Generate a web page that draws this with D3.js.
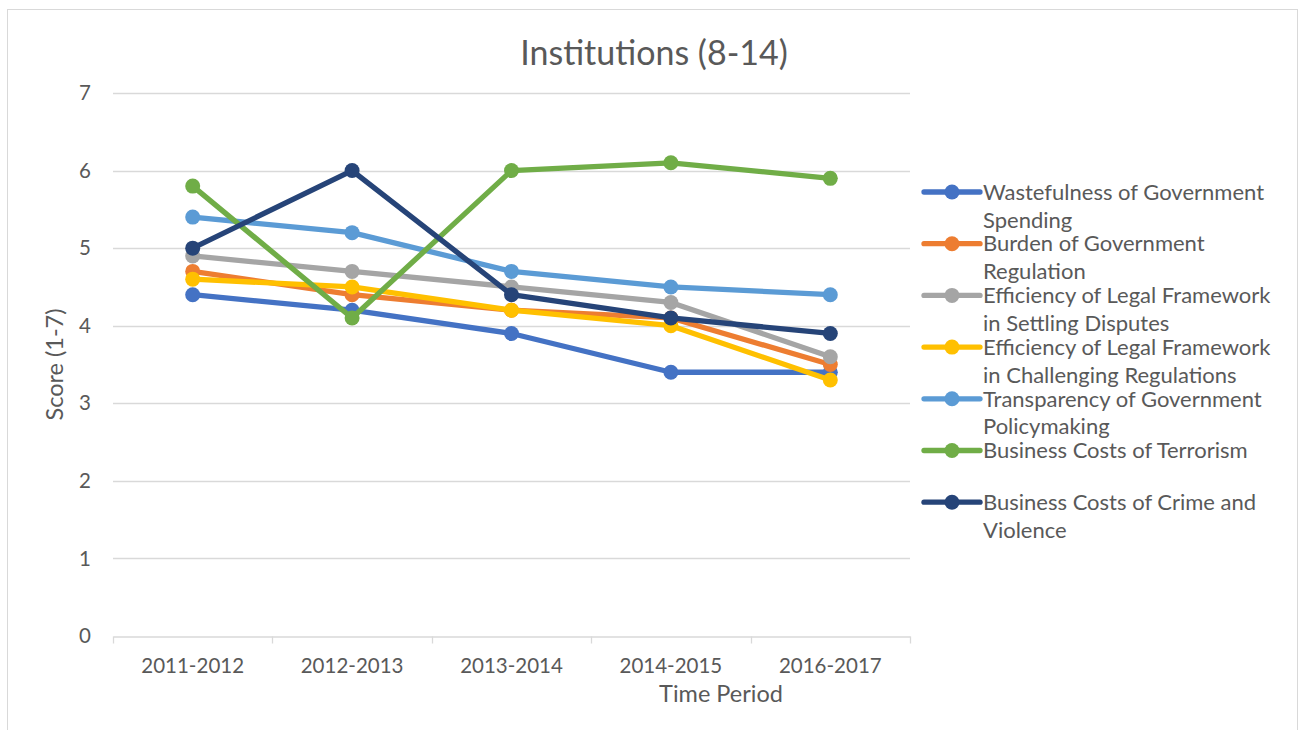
<!DOCTYPE html>
<html>
<head>
<meta charset="utf-8">
<script src="https://cdn.jsdelivr.net/npm/d3@7"></script>
<style>
  body { margin: 0; background: #fff; }
  text { font-family: Lato, "Open Sans", sans-serif; fill: #595959; }
</style>
</head>
<body>
<div id="chart"></div>
<script>
// data
var periods = ["2011-2012", "2012-2013", "2013-2014", "2014-2015", "2016-2017"];
var seriesNames = [
  ["Wastefulness of Government", "Spending"],
  ["Burden of Government", "Regulation"],
  ["Efficiency of Legal Framework", "in Settling Disputes"],
  ["Efficiency of Legal Framework", "in Challenging Regulations"],
  ["Transparency of Government", "Policymaking"],
  ["Business Costs of Terrorism"],
  ["Business Costs of Crime and", "Violence"]
];
var wastefulness = [4.4, 4.2, 3.9, 3.4, 3.4];
var burden       = [4.7, 4.4, 4.2, 4.1, 3.5];
var settling     = [4.9, 4.7, 4.5, 4.3, 3.6];
var challenging  = [4.6, 4.5, 4.2, 4.0, 3.3];
var transparency = [5.4, 5.2, 4.7, 4.5, 4.4];
var terrorism    = [5.8, 4.1, 6.0, 6.1, 5.9];
var crime        = [5.0, 6.0, 4.4, 4.1, 3.9];
var yTicks = [0, 1, 2, 3, 4, 5, 6, 7];
var colors = ["#4472C4", "#ED7D31", "#A5A5A5", "#FFC000", "#5B9BD5", "#70AD47", "#264478"];

var allValues = [wastefulness, burden, settling, challenging, transparency, terrorism, crime];
var series = seriesNames.map(function(n, i) {
  return { name: n, values: allValues[i], color: colors[i] };
});

var W = 1304, H = 730;
var plot = {left: 113, right: 910, top: 93, bottom: 636};

var svg = d3.select("#chart").append("svg")
    .attr("width", W)
    .attr("height", H);

// outer chart border
svg.append("rect")
    .attr("x", 7.5).attr("y", 9.5)
    .attr("width", 1290).attr("height", 740)
    .attr("fill", "none")
    .attr("stroke", "#d9d9d9");

var x = d3.scaleBand()
    .domain(periods)
    .range([plot.left, plot.right]);

var y = d3.scaleLinear()
    .domain([0, 7])
    .range([plot.bottom, plot.top]);

// gridlines
svg.append("g")
  .selectAll("line")
  .data(yTicks.slice(1))
  .enter().append("line")
    .attr("x1", plot.left).attr("x2", plot.right)
    .attr("y1", function(d) { return Math.round(y(d)) + 0.5; })
    .attr("y2", function(d) { return Math.round(y(d)) + 0.5; })
    .attr("stroke", "#d9d9d9")
    .attr("stroke-width", 1.3);

// y axis labels
svg.append("g")
  .selectAll("text")
  .data(yTicks)
  .enter().append("text")
    .attr("x", 91)
    .attr("y", function(d) { return y(d); })
    .attr("dy", "0.35em")
    .attr("text-anchor", "end")
    .style("font-size", "20.5px")
    .text(function(d) { return d; });

// x axis
var xAxis = d3.axisBottom(x)
    .tickValues([])
    .tickSizeOuter(0);
var gx = svg.append("g")
    .attr("transform", "translate(0," + (Math.round(plot.bottom) + 0.5) + ")")
    .call(xAxis);
gx.select(".domain").attr("stroke", "#d9d9d9").attr("stroke-width", 1.3);

var boundaries = periods.map(function(p) { return x(p); }).concat([plot.right]);
gx.selectAll(".bound")
  .data(boundaries)
  .enter().append("line")
    .attr("x1", function(d) { return Math.round(d) + 0.5; })
    .attr("x2", function(d) { return Math.round(d) + 0.5; })
    .attr("y1", 0).attr("y2", 7)
    .attr("stroke", "#d9d9d9")
    .attr("stroke-width", 1.3);

svg.append("g")
  .selectAll("text")
  .data(periods)
  .enter().append("text")
    .attr("x", function(d) { return x(d) + x.bandwidth() / 2; })
    .attr("y", 673)
    .attr("text-anchor", "middle")
    .style("font-size", "20.5px")
    .text(function(d) { return d; });

// lines and markers
var line = d3.line()
    .x(function(d, i) { return x(periods[i]) + x.bandwidth() / 2; })
    .y(function(d) { return y(d); });

var sg = svg.append("g").selectAll("g")
  .data(series)
  .enter().append("g");

sg.append("path")
    .attr("d", function(d) { return line(d.values); })
    .attr("fill", "none")
    .attr("stroke", function(d) { return d.color; })
    .attr("stroke-width", 5.3)
    .attr("stroke-linejoin", "round");

sg.selectAll("circle")
  .data(function(d) { return d.values.map(function(v) { return {v: v, c: d.color}; }); })
  .enter().append("circle")
    .attr("cx", function(d, i) { return x(periods[i]) + x.bandwidth() / 2; })
    .attr("cy", function(d) { return y(d.v); })
    .attr("r", 7.5)
    .attr("fill", function(d) { return d.c; });

// title
svg.append("text")
    .attr("x", 654)
    .attr("y", 65)
    .attr("text-anchor", "middle")
    .style("font-size", "34px")
    .text("Institutions (8-14)");

// axis titles
svg.append("text")
    .attr("transform", "translate(63," + ((plot.top + plot.bottom) / 2) + ") rotate(-90)")
    .attr("text-anchor", "middle")
    .style("font-size", "23.5px")
    .text("Score (1-7)");

svg.append("text")
    .attr("x", 721)
    .attr("y", 702)
    .attr("text-anchor", "middle")
    .style("font-size", "23.5px")
    .text("Time Period");

// legend
var legend = svg.append("g").selectAll("g")
  .data(series)
  .enter().append("g")
    .attr("transform", function(d, i) { return "translate(924," + (192 + i * 51.7) + ")"; });

legend.append("line")
    .attr("x1", 0).attr("x2", 56)
    .attr("stroke", function(d) { return d.color; })
    .attr("stroke-width", 5.3)
    .attr("stroke-linecap", "round");

legend.append("circle")
    .attr("cx", 28)
    .attr("r", 7.5)
    .attr("fill", function(d) { return d.color; });

legend.append("text")
    .attr("x", 59)
    .style("font-size", "22px")
    .selectAll("tspan")
    .data(function(d) { return d.name; })
    .enter().append("tspan")
      .attr("x", 59)
      .attr("dy", function(d, i) { return i === 0 ? "0.35em" : "28px"; })
      .text(function(d) { return d; });
</script>
</body>
</html>
